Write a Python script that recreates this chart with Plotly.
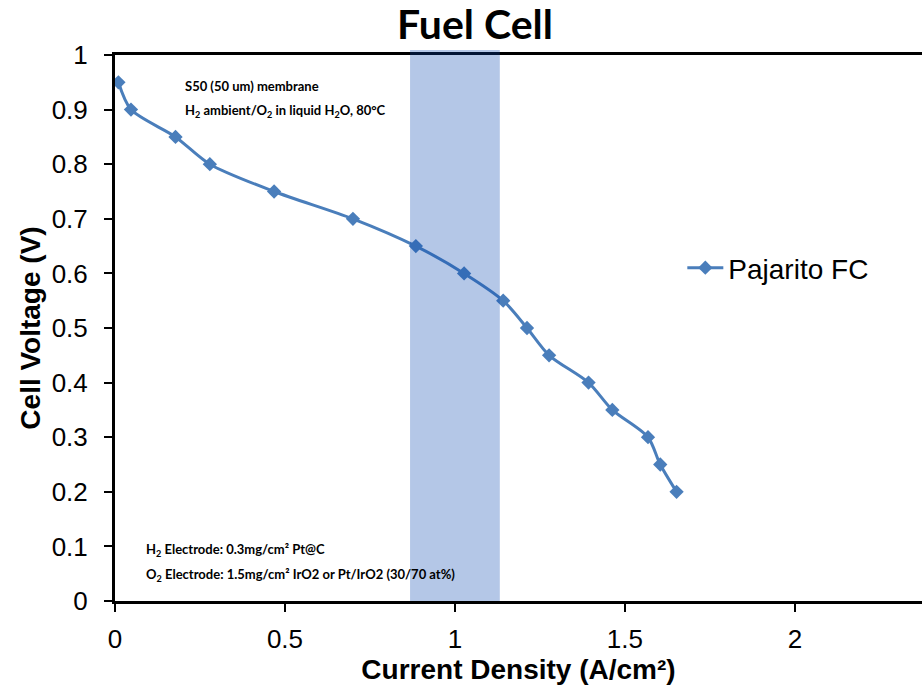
import plotly.graph_objects as go

# Data
current_density = [0.01, 0.047, 0.178, 0.279, 0.468, 0.70, 0.885, 1.027, 1.142,
                   1.212, 1.277, 1.393, 1.463, 1.568, 1.604, 1.652]
cell_voltage = [0.95, 0.90, 0.85, 0.80, 0.75, 0.70, 0.65, 0.60, 0.55,
                0.50, 0.45, 0.40, 0.35, 0.30, 0.25, 0.20]
series_name = "Pajarito FC"
band_x = [0.868, 1.132]
x_ticks = [0, 0.5, 1, 1.5, 2]
x_tick_text = ["0", "0.5", "1", "1.5", "2"]
y_ticks = [0, 0.1, 0.2, 0.3, 0.4, 0.5, 0.6, 0.7, 0.8, 0.9, 1]
y_tick_text = ["0", "0.1", "0.2", "0.3", "0.4", "0.5", "0.6", "0.7", "0.8", "0.9", "1"]

BLUE = "#4a7ebb"
AX_FONT = "Liberation Sans, Arial, sans-serif"
NOTE_FONT = "Lato, Open Sans, sans-serif"

fig = go.Figure()
fig.add_trace(go.Scatter(
    x=current_density, y=cell_voltage, name=series_name,
    mode="lines+markers",
    line=dict(color=BLUE, width=3, shape="spline", smoothing=0.8),
    marker=dict(symbol="diamond", size=11, color=BLUE),
))

# highlighted band
fig.add_shape(type="rect", xref="x", yref="paper",
              x0=band_x[0], x1=band_x[1], y0=0, y1=1.009,
              fillcolor="rgba(5,68,175,0.30)", line=dict(width=0), layer="above")

fig.update_layout(
    width=922, height=691,
    margin=dict(l=115, r=0, t=55, b=90),
    paper_bgcolor="white", plot_bgcolor="white",
    showlegend=True,
    legend=dict(x=0.703, y=0.61, xanchor="left", yanchor="middle",
                font=dict(family=AX_FONT, size=28, color="black"),
                bgcolor="rgba(0,0,0,0)", itemwidth=36),
    title=dict(text="<b>Fuel Cell</b>", xref="container", yref="container",
               x=475/922, y=1-25/691, xanchor="center", yanchor="middle",
               font=dict(family=NOTE_FONT, size=41, color="black")),
    xaxis=dict(range=[0, 2.374], tickvals=x_ticks, ticktext=x_tick_text,
               showgrid=False, zeroline=False, showline=True, linecolor="black",
               linewidth=3, mirror=True, ticks="outside", ticklen=8, tickwidth=1.5,
               tickcolor="black", ticklabelstandoff=5,
               tickfont=dict(family=AX_FONT, size=26, color="black"),
               title=dict(text="<b>Current Density (A/cm²)</b>", standoff=7,
                          font=dict(family=AX_FONT, size=28, color="black"))),
    yaxis=dict(range=[0, 1], tickvals=y_ticks, ticktext=y_tick_text,
               showgrid=False, zeroline=False, showline=True, linecolor="black",
               linewidth=3, ticks="outside", ticklen=8, tickwidth=1.5,
               tickcolor="black", ticklabelstandoff=11,
               tickfont=dict(family=AX_FONT, size=26, color="black"),
               title=dict(text="<b>Cell Voltage (V)</b>", standoff=3,
                          font=dict(family=AX_FONT, size=28, color="black"))),
)

fig.add_annotation(xref="paper", yref="paper", x=(183-115)/807, y=(601-86)/546,
                   xanchor="left", yanchor="middle", showarrow=False, align="left",
                   text="<b>S50 (50 um) membrane</b>",
                   font=dict(family=NOTE_FONT, size=13, color="black"))
fig.add_annotation(xref="paper", yref="paper", x=(183-115)/807, y=(601-111)/546,
                   xanchor="left", yanchor="middle", showarrow=False, align="left",
                   text="<b>H<sub>2</sub> ambient/O<sub>2</sub> in liquid H<sub>2</sub>O, 80°C</b>",
                   font=dict(family=NOTE_FONT, size=13, color="black"))
fig.add_annotation(xref="paper", yref="paper", x=(144-115)/807, y=(601-550)/546,
                   xanchor="left", yanchor="middle", showarrow=False, align="left",
                   text="<b>H<sub>2</sub> Electrode: 0.3mg/cm² Pt@C</b>",
                   font=dict(family=NOTE_FONT, size=13, color="black"))
fig.add_annotation(xref="paper", yref="paper", x=(144-115)/807, y=(601-575)/546,
                   xanchor="left", yanchor="middle", showarrow=False, align="left",
                   text="<b>O<sub>2</sub> Electrode: 1.5mg/cm² IrO2 or Pt/IrO2 (30/70 at%)</b>",
                   font=dict(family=NOTE_FONT, size=13, color="black"))

fig.write_html("out.html")
